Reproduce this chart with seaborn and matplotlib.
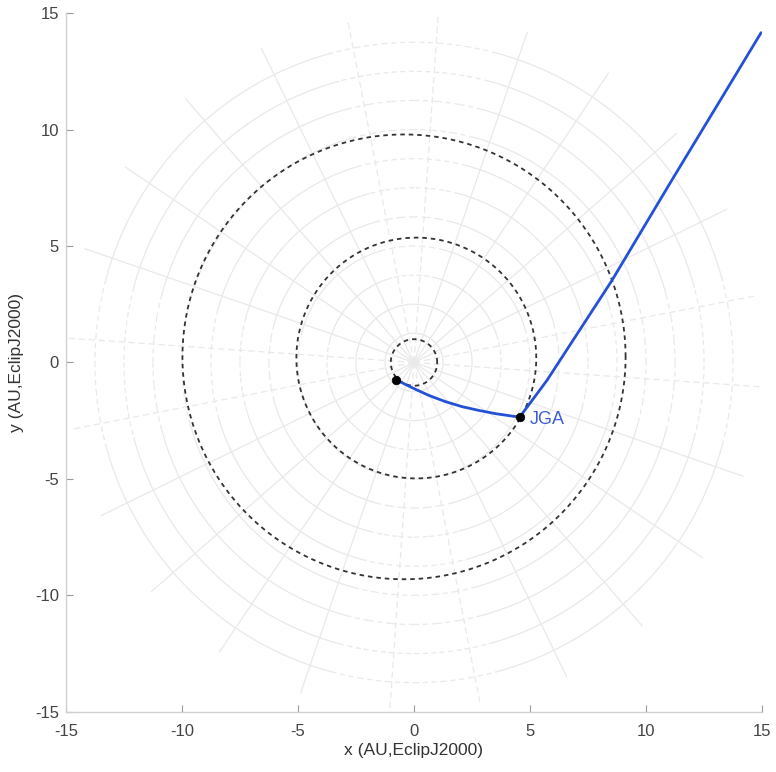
import numpy as np
import pandas as pd
import matplotlib
matplotlib.use("Agg")
import matplotlib.pyplot as plt
import seaborn as sns

sns.set_theme(style="white")
plt.rcParams['font.family'] = ['Liberation Sans', 'DejaVu Sans']
plt.rcParams['axes.unicode_minus'] = False

# trajectory legs (AU)
leg1_x = [-0.76, -0.07, 0.65, 1.35, 2.08, 2.80, 3.52, 4.55]
leg1_y = [-0.75, -1.09, -1.42, -1.68, -1.90, -2.06, -2.20, -2.35]
leg2_x = [4.55, 5.00, 5.73, 6.80, 7.97, 8.53, 11.12, 13.00, 14.96]
leg2_y = [-2.35, -1.75, -0.77, 0.87, 2.66, 3.52, 7.84, 10.93, 14.16]

# event dots
event_x = [-0.76, 4.55]
event_y = [-0.75, -2.35]
event_label = ["", "JGA"]

# planet orbits: centre x, centre y, radius
orbit_name = ["Earth", "Jupiter", "Saturn"]
orbit_cx = [0.0, 0.10, -0.43]
orbit_cy = [0.0, 0.19, 0.24]
orbit_r = [1.0, 5.17, 9.55]

# polar grid
grid_radii = [1.25, 2.5, 3.75, 5.0, 6.25, 7.5, 8.75, 10.0, 11.25, 12.5, 13.75]
spoke_angles = [11 + 15 * k for k in range(24)]
spoke_len = 15.0

grid_col = "#e9e9e9"
blue = "#2451d6"

fig, ax = plt.subplots(figsize=(7.76, 7.72), dpi=100)
fig.subplots_adjust(left=0.085, right=0.982, bottom=0.078, top=0.983)

def near_axis(deg):
    d = deg % 90
    return d < 15 or d > 75

# circles: dashed near the axes, solid elsewhere
for r in grid_radii:
    for a0 in range(0, 360, 5):
        t = np.radians(np.linspace(a0, a0 + 5, 8))
        ls = (0, (4, 3)) if near_axis(a0 + 2.5) else "-"
        ax.plot(r * np.cos(t), r * np.sin(t), color=grid_col, lw=0.9, ls=ls, zorder=1)

for a in spoke_angles:
    t = np.radians(a)
    ls = (0, (5, 3)) if near_axis(a) else "-"
    ax.plot([0, spoke_len * np.cos(t)], [0, spoke_len * np.sin(t)],
            color=grid_col, lw=0.9, ls=ls, zorder=1)

# orbits
theta = np.linspace(0, 2 * np.pi, 400)
for cx, cy, r in zip(orbit_cx, orbit_cy, orbit_r):
    ax.plot(cx + r * np.cos(theta), cy + r * np.sin(theta),
            color="#333333", lw=1.3, ls=(0, (2.5, 2.2)), zorder=2)

# trajectory
for xs, ys in [(leg1_x, leg1_y), (leg2_x, leg2_y)]:
    df = pd.DataFrame({"x": xs, "y": ys})
    sns.lineplot(data=df, x="x", y="y", sort=False, estimator=None,
                 color=blue, lw=2.0, ax=ax, zorder=3)

sns.scatterplot(x=event_x, y=event_y, color="black", s=38, edgecolor="black",
                ax=ax, zorder=4)
for x, y, lab in zip(event_x, event_y, event_label):
    if lab:
        ax.text(x + 0.42, y - 0.1, lab, color="#3b5fd0", fontsize=13,
                ha="left", va="center", zorder=5)

ax.set_xlim(-15, 15)
ax.set_ylim(-15, 15)
ax.set_xticks([-15, -10, -5, 0, 5, 10, 15])
ax.set_yticks([-15, -10, -5, 0, 5, 10, 15])
ax.set_xlabel("x (AU,EclipJ2000)", fontsize=12.5, color="#333333", labelpad=3)
ax.set_ylabel("y (AU,EclipJ2000)", fontsize=12.5, color="#333333", labelpad=8)
ax.tick_params(direction="in", length=5, width=0.8, color="#9a9a9a",
               labelcolor="#444444", labelsize=12,
               bottom=True, left=True)
ax.tick_params(axis="x", pad=9)
ax.tick_params(axis="y", pad=5)
sns.despine(ax=ax)
for s in ["left", "bottom"]:
    ax.spines[s].set_color("#d0d0d0")
    ax.spines[s].set_linewidth(1.0)
ax.grid(False)

fig.savefig("out.png", dpi=100)
